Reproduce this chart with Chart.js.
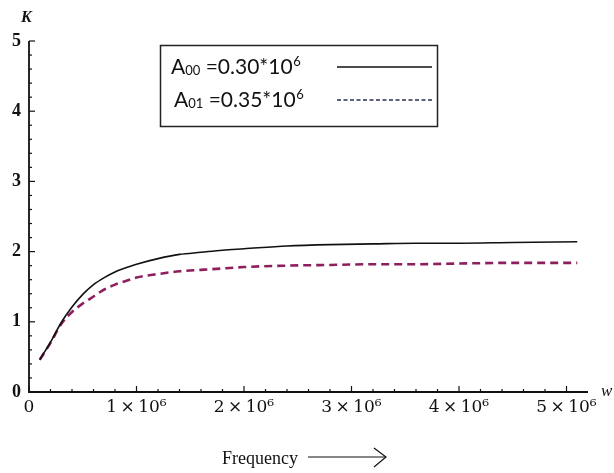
<!DOCTYPE html>
<html><head><meta charset="utf-8">
<script src="https://cdn.jsdelivr.net/npm/chart.js@4/dist/chart.umd.min.js"></script>
<style>html,body{margin:0;padding:0;background:#fff}#wrap{width:614px;height:473px}</style>
</head><body><div id="wrap"><canvas id="c" width="614" height="473"></canvas></div>
<script>
// ---- data ----
const frequency = [1e5,2e5,3e5,4e5,5e5,6e5,7e5,8e5,9e5,1.0e6,1.2e6,1.4e6,1.6e6,1.8e6,2.0e6,2.4e6,2.8e6,3.2e6,3.6e6,4.0e6,4.5e6,5.1e6];
const kA00 = [0.46,0.71,0.99,1.21,1.39,1.53,1.63,1.71,1.77,1.82,1.90,1.96,1.99,2.02,2.04,2.08,2.10,2.11,2.12,2.12,2.13,2.14];
const kA01 = [0.46,0.70,0.97,1.14,1.26,1.36,1.46,1.53,1.58,1.63,1.68,1.72,1.74,1.76,1.78,1.80,1.81,1.82,1.82,1.83,1.84,1.84];
const xTickValues = [0,1e6,2e6,3e6,4e6,5e6];
const xTickLabels = ['0','1\u2009\u00d7\u200910\u2076','2\u2009\u00d7\u200910\u2076','3\u2009\u00d7\u200910\u2076','4\u2009\u00d7\u200910\u2076','5\u2009\u00d7\u200910\u2076'];
const yTickValues = [0,1,2,3,4,5];
const legendBase = ['A','A'];
const legendSub = ['00','01'];
const legendValue = [' =0.30*10',' =0.35*10'];
const legendSup = ['6','6'];
const xTitle = 'Frequency';
const yTitle = 'K';
const xVar = 'w';

const SERIF = '"Liberation Serif","DejaVu Serif",serif';
const DSERIF = '"DejaVu Serif",serif';
const SANS = 'Lato,"Open Sans",sans-serif';

const decor = {
  id: 'decor',
  afterDraw(chart) {
    const ctx = chart.ctx, xs = chart.scales.x, ys = chart.scales.y;
    const L = xs.left, R = xs.right, T = ys.top, B = ys.bottom;
    ctx.save();
    ctx.strokeStyle = '#111'; ctx.lineWidth = 1.8; ctx.lineCap = 'butt';
    ctx.beginPath(); ctx.moveTo(L, T); ctx.lineTo(L, B); ctx.lineTo(R, B); ctx.stroke();
    ctx.lineWidth = 1.2;
    for (let i = 0; i <= 25; i++) {
      const v = i * 0.2, y = ys.getPixelForValue(v), len = (i % 5 === 0) ? 6 : 3;
      ctx.beginPath(); ctx.moveTo(L, y); ctx.lineTo(L + len, y); ctx.stroke();
      const xv = i * 2e5, x = xs.getPixelForValue(xv);
      ctx.beginPath(); ctx.moveTo(x, B); ctx.lineTo(x, B - len); ctx.stroke();
    }
    // axis variable names
    ctx.fillStyle = '#111';
    ctx.font = 'italic bold 16px ' + SERIF; ctx.textAlign = 'left'; ctx.textBaseline = 'alphabetic';
    ctx.fillText(yTitle, 21, 22);
    ctx.font = 'italic 17px ' + SERIF;
    ctx.fillText(xVar, 601, 396);
    // x title + arrow
    ctx.font = '18px ' + SERIF;
    ctx.fillText(xTitle, 222, 464);
    ctx.lineWidth = 1.2;
    ctx.beginPath(); ctx.moveTo(308, 457); ctx.lineTo(386, 457); ctx.stroke();
    ctx.beginPath(); ctx.moveTo(374, 448); ctx.lineTo(386, 457); ctx.lineTo(374, 467); ctx.stroke();
    // legend box
    ctx.lineWidth = 1.5; ctx.strokeStyle = '#222';
    ctx.strokeRect(160.5, 45.5, 277, 81);
    const rows = [67, 100], starts = [171, 174];
    const styles = [{c:'#111', w:1.6, d:[]}, {c:'#2b2f52', w:1.5, d:[4,2.5]}];
    for (let k = 0; k < 2; k++) {
      let x = starts[k]; const y = rows[k] + 7;
      ctx.font = '21px ' + SANS; ctx.fillStyle = '#111';
      ctx.fillText(legendBase[k], x, y); x += ctx.measureText(legendBase[k]).width;
      ctx.font = '13px ' + SANS;
      ctx.fillText(legendSub[k], x, y + 1); x += ctx.measureText(legendSub[k]).width;
      ctx.font = '21px ' + SANS;
      ctx.fillText(legendValue[k], x, y); x += ctx.measureText(legendValue[k]).width;
      ctx.font = '13px ' + SANS;
      ctx.fillText(legendSup[k], x + 0.5, y - 8);
      ctx.strokeStyle = styles[k].c; ctx.lineWidth = styles[k].w; ctx.setLineDash(styles[k].d);
      ctx.beginPath(); ctx.moveTo(337, rows[k]); ctx.lineTo(432, rows[k]); ctx.stroke();
      ctx.setLineDash([]);
    }
    ctx.restore();
  }
};

new Chart(document.getElementById('c'), {
  type: 'line',
  data: {
    labels: frequency,
    datasets: [
      { label: 'A00 =0.30*10^6', data: frequency.map((f, i) => ({x: f, y: kA00[i]})),
        borderColor: '#111', borderWidth: 1.6, pointRadius: 0, fill: false, cubicInterpolationMode: 'monotone' },
      { label: 'A01 =0.35*10^6', data: frequency.map((f, i) => ({x: f, y: kA01[i]})),
        borderColor: '#8e1f5f', borderWidth: 2.6, borderDash: [8, 5], pointRadius: 0, fill: false, cubicInterpolationMode: 'monotone' }
    ]
  },
  options: {
    responsive: false, animation: false, devicePixelRatio: 1,
    layout: { padding: { left: 0, right: 26, top: 41, bottom: 0 } },
    plugins: { legend: { display: false }, tooltip: { enabled: false } },
    scales: {
      x: {
        type: 'linear', min: 0, max: 5.2e6,
        afterBuildTicks: s => { s.ticks = xTickValues.map(v => ({ value: v })); },
        afterFit: s => { s.height = 81; },
        grid: { display: false, drawTicks: false }, border: { display: false },
        ticks: { autoSkip: false, maxRotation: 0, color: '#111', padding: 5,
          font: { family: DSERIF, size: 17 },
          callback: (v) => { const i = xTickValues.indexOf(v); return i >= 0 ? xTickLabels[i] : ''; } }
      },
      y: {
        type: 'linear', min: 0, max: 5,
        afterBuildTicks: s => { s.ticks = yTickValues.map(v => ({ value: v })); },
        afterFit: s => { s.width = 29; },
        grid: { display: false, drawTicks: false }, border: { display: false },
        ticks: { color: '#111', padding: 8, font: { family: SERIF, size: 18, weight: 'bold' } }
      }
    }
  },
  plugins: [decor]
});
</script></body></html>
